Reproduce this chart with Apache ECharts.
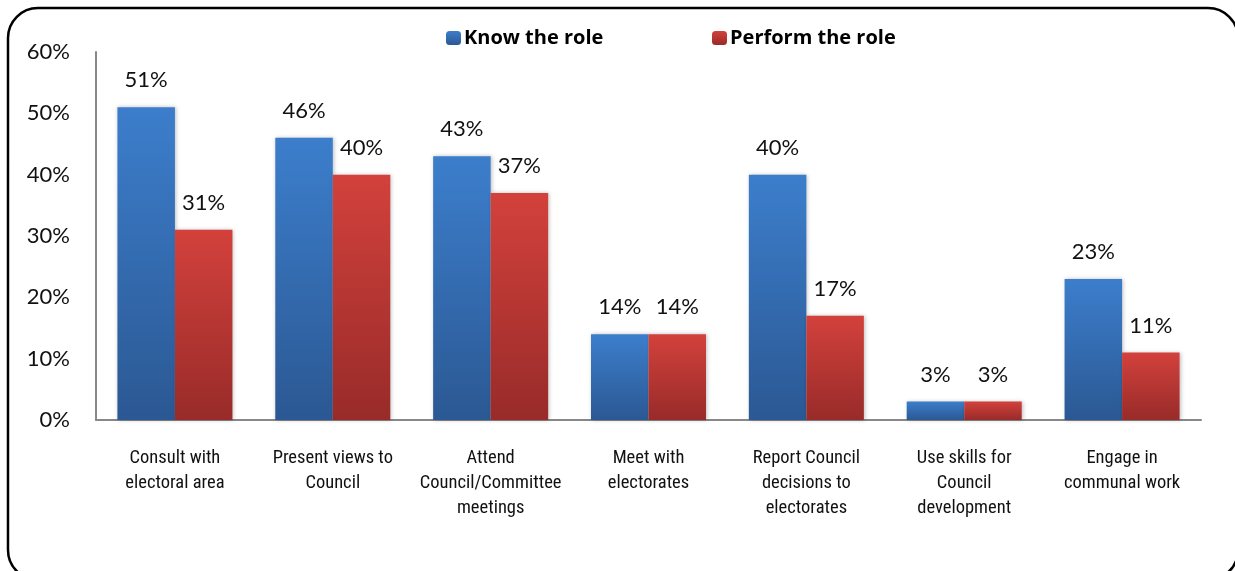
<!DOCTYPE html>
<html>
<head>
<meta charset="utf-8">
<script src="https://cdn.jsdelivr.net/npm/echarts@6/dist/echarts.min.js"></script>
<style>
  html, body { margin: 0; padding: 0; background: #fff; }
  #chart { width: 1235px; height: 571px; }
</style>
</head>
<body>
<div id="chart"></div>
<script>
// Roles of councillors: share who know the role vs. share who perform it
const categories = [
  'Consult with\nelectoral area',
  'Present views to\nCouncil',
  'Attend\nCouncil/Committee\nmeetings',
  'Meet with\nelectorates',
  'Report Council\ndecisions to\nelectorates',
  'Use skills for\nCouncil\ndevelopment',
  'Engage in\ncommunal work'
];
const knowRole = [51, 46, 43, 14, 40, 3, 23];
const performRole = [31, 40, 37, 14, 17, 3, 11];
const seriesNames = ['Know the role', 'Perform the role'];
const yTicks = { min: 0, max: 60, interval: 10 };

function vGrad(top, bottom) {
  return new echarts.graphic.LinearGradient(0, 0, 0, 1, [
    { offset: 0, color: top },
    { offset: 1, color: bottom }
  ]);
}

const blueFill = vGrad('#3c7ecc', '#2b5893');
const redFill = vGrad('#d3413c', '#982b29');

const labelStyle = {
  show: true,
  position: 'top',
  distance: 16,
  formatter: '{c}%',
  fontFamily: 'Lato, "Open Sans", sans-serif',
  fontSize: 22,
  color: '#111'
};

const legendText = {
  fontFamily: '"Open Sans", Lato, sans-serif',
  fontWeight: 'bold',
  fontSize: 20,
  color: '#000',
  padding: [0, 0, 0, -2]
};

const chart = echarts.init(document.getElementById('chart'), null, { renderer: 'canvas' });

chart.setOption({
  animation: false,
  backgroundColor: '#fff',
  graphic: [{
    type: 'rect',
    shape: { x: 8, y: 8, width: 1230, height: 572, r: 30 },
    style: { fill: 'none', stroke: '#000', lineWidth: 2.5 },
    silent: true,
    z: 100
  }],
  legend: [
    {
      data: [seriesNames[0]],
      left: 441, top: 23,
      itemWidth: 15, itemHeight: 14, itemGap: 0,
      textStyle: legendText
    },
    {
      data: [seriesNames[1]],
      left: 707, top: 23,
      itemWidth: 15, itemHeight: 14, itemGap: 0,
      textStyle: legendText
    }
  ],
  grid: { left: 96, right: 34, top: 52, bottom: 151, containLabel: false },
  xAxis: {
    type: 'category',
    data: categories,
    axisLine: { lineStyle: { color: '#888', width: 2 } },
    axisTick: { show: false },
    axisLabel: {
      margin: 26,
      interval: 0,
      fontFamily: '"Liberation Sans Narrow", "Arial Narrow", "Roboto Condensed", sans-serif',
      fontSize: 18.5,
      lineHeight: 25,
      color: '#111'
    }
  },
  yAxis: {
    type: 'value',
    min: yTicks.min, max: yTicks.max, interval: yTicks.interval,
    axisLine: { show: true, lineStyle: { color: '#888', width: 2 } },
    axisTick: { show: false },
    splitLine: { show: false },
    axisLabel: {
      formatter: '{value}%',
      margin: 26,
      fontFamily: 'Lato, "Open Sans", sans-serif',
      fontSize: 22,
      color: '#111'
    }
  },
  series: [
    {
      name: seriesNames[0],
      type: 'bar',
      data: knowRole,
      barWidth: 57.5,
      barGap: '0%',
      itemStyle: { color: blueFill, shadowBlur: 4, shadowColor: 'rgba(0,0,0,0.25)', shadowOffsetX: 1 },
      label: labelStyle
    },
    {
      name: seriesNames[1],
      type: 'bar',
      data: performRole,
      barWidth: 57.5,
      barGap: '0%',
      itemStyle: { color: redFill, shadowBlur: 4, shadowColor: 'rgba(0,0,0,0.25)', shadowOffsetX: 1 },
      label: labelStyle
    }
  ]
});
</script>
</body>
</html>
